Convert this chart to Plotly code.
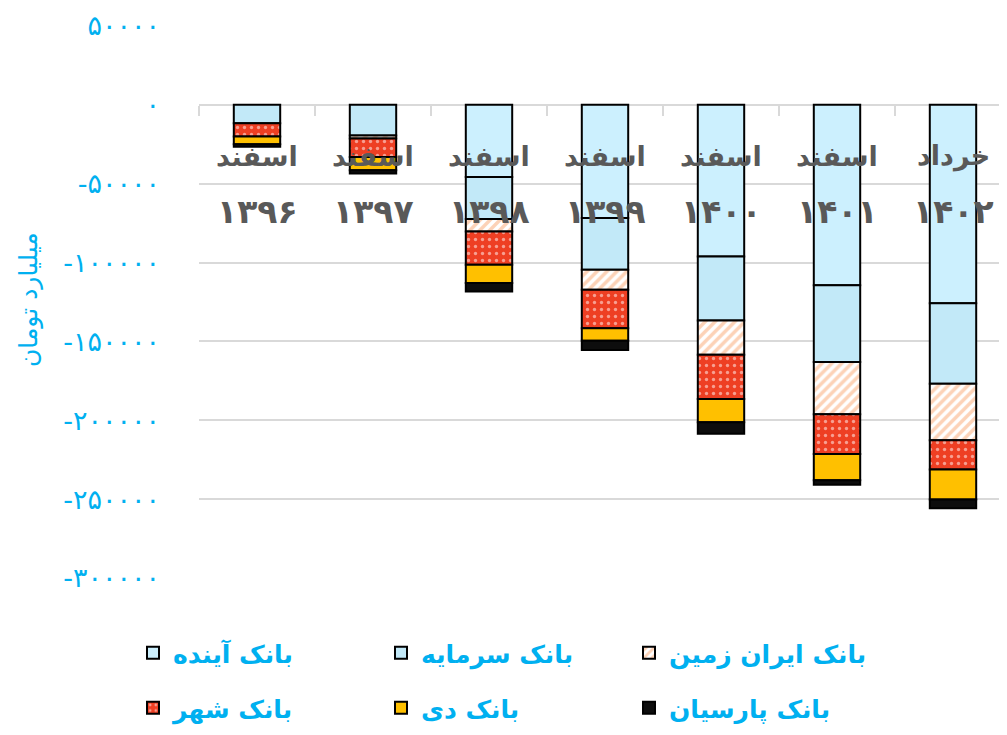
import plotly.graph_objects as go

# ---- data ----
months = ["اسفند", "اسفند", "اسفند", "اسفند", "اسفند", "اسفند", "خرداد"]
years = ["۱۳۹۶", "۱۳۹۷", "۱۳۹۸", "۱۳۹۹", "۱۴۰۰", "۱۴۰۱", "۱۴۰۲"]
categories = [m + " " + y for m, y in zip(months, years)]

series_names = ["بانک آینده", "بانک سرمایه", "بانک ایران زمین", "بانک شهر", "بانک دی", "بانک پارسیان"]
ayandeh = [None, None, -45800, -71800, -96100, -114400, -125800]
sarmayeh = [-11600, -19400, -26600, -32800, -40600, -48700, -51100]
iranzamin = [None, -2000, -7900, -12700, -21700, -33000, -35700]
shahr = [-8500, -11600, -21100, -24300, -28100, -25300, -18600]
dey = [-4900, -8400, -11600, -7900, -14800, -16700, -19000]
parsian = [-1500, -2100, -5300, -5900, -7200, -2700, -5500]

ytick_vals = [50000, 0, -50000, -100000, -150000, -200000, -250000, -300000]
ytick_text = ["۵۰۰۰۰", "۰", "-۵۰۰۰۰", "-۱۰۰۰۰۰", "-۱۵۰۰۰۰", "-۲۰۰۰۰۰", "-۲۵۰۰۰۰", "-۳۰۰۰۰۰"]
y_title = "میلیارد تومان"

# ---- styles ----
BLUE = "#00B0F0"
GRAY = "#595959"
GRID = "#D9D9D9"
FONT = "DejaVu Sans"

styles = [
    dict(color="#CCF0FE"),
    dict(color="#C2E9F8"),
    dict(color="white", pattern=dict(shape="/", fgcolor="#F9A66F", bgcolor="white", size=7, solidity=0.5)),
    dict(color="#EE3F23", pattern=dict(shape=".", fgcolor="white", bgcolor="#EE3F23", size=7, solidity=0.18)),
    dict(color="#FFC000"),
    dict(color="#0D0D0D"),
]
values = [ayandeh, sarmayeh, iranzamin, shahr, dey, parsian]

fig = go.Figure()
for i, (name, vals, st) in enumerate(zip(series_names, values, styles)):
    marker = dict(line=dict(color="black", width=2), **st)
    fig.add_trace(go.Bar(
        x=categories, y=vals, name=name, marker=marker,
        legend="legend" if i < 3 else "legend2",
        hoverinfo="skip",
    ))

# page body has an 8px margin; work in window pixels and convert
OFF = 8
W, H = 1007 - 2 * OFF, 735 - 2 * OFF
plot_left, plot_top, plot_bottom = 199, 26, 578
L = plot_left - OFF
T = plot_top - OFF
B = H - (plot_bottom - OFF)
R = 0
plot_h = H - T - B
plot_w = W - L - R
cat_px = 116.0
x_hi = -0.5 + plot_w / cat_px

def py(px):
    return (plot_bottom - px) / plot_h

def pxx(px):
    return (px - plot_left) / plot_w

legend_common = dict(
    orientation="h", xanchor="left", yanchor="middle",
    font=dict(family=FONT, size=25, color=BLUE, weight="bold"),
    entrywidth=203, entrywidthmode="pixels",
    bgcolor="rgba(0,0,0,0)", itemclick=False, itemdoubleclick=False,
)

fig.update_layout(
    width=W, height=H,
    margin=dict(l=L, r=R, t=T, b=B, autoexpand=False),
    paper_bgcolor="white", plot_bgcolor="white",
    barmode="relative", bargap=0.6,
    showlegend=True,
    legend=dict(x=pxx(133), y=py(653), **legend_common),
    legend2=dict(x=pxx(133), y=py(708), **legend_common),
    xaxis=dict(
        type="category", range=[-0.5, x_hi],
        anchor="free", position=300000 / 350000,
        showline=True, linecolor=GRID, linewidth=2,
        ticks="outside", tickson="boundaries", ticklen=10, tickwidth=2, tickcolor=GRID,
        showticklabels=False, showgrid=False, layer="below traces",
    ),
    yaxis=dict(
        range=[-300000, 50000],
        tickvals=ytick_vals, ticktext=ytick_text,
        tickfont=dict(family=FONT, size=27, color=BLUE),
        showgrid=True, gridcolor=GRID, gridwidth=2,
        zeroline=False, showline=False, ticks="",
        ticklabelstandoff=38,
    ),
    font=dict(family=FONT),
)

annotations = []
for c, m, y in zip(categories, months, years):
    annotations.append(dict(x=c, xref="x", y=py(156), yref="paper", text="<b>" + m + "</b>",
                            showarrow=False, font=dict(family=FONT, size=27, color=GRAY),
                            xanchor="center", yanchor="middle"))
    annotations.append(dict(x=c, xref="x", y=py(211), yref="paper", text="<b>" + y + "</b>",
                            showarrow=False, font=dict(family=FONT, size=33, color=GRAY),
                            xanchor="center", yanchor="middle"))
annotations.append(dict(x=pxx(28), xref="paper", y=py(300), yref="paper", text=y_title,
                        textangle=-90, showarrow=False,
                        font=dict(family=FONT, size=25, color=BLUE),
                        xanchor="center", yanchor="middle"))
fig.update_layout(annotations=annotations)

fig.write_html("out.html")
